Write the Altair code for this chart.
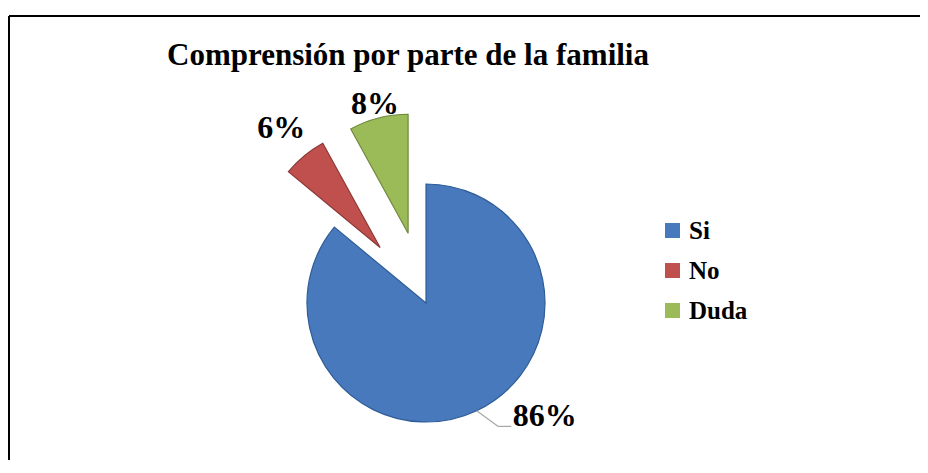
import math
import altair as alt
import pandas as pd

# ---- data ----
categories = ["Si", "No", "Duda"]
values = [86, 6, 8]
labels = ["86%", "6%", "8%"]
colors = ["#4779BC", "#C0504D", "#9BBB59"]
edge_colors = ["#2E5C96", "#8C3836", "#71893F"]
title_text = "Comprensión por parte de la familia"

W, H = 912, 452
CX, CY, R = 418, 295, 119
EXPLODE = 72
TAU = 2 * math.pi
SERIF = "Liberation Serif"

df = pd.DataFrame({"cat": categories, "val": values, "label": labels,
                   "order": list(range(len(categories)))})

base = alt.Chart(df).transform_joinaggregate(
    total="sum(val)"
).transform_window(
    cum="sum(val)", sort=[alt.SortField("order")], frame=[None, 0]
).transform_calculate(
    end="datum.cum / datum.total * 100",
    start="(datum.cum - datum.val) / datum.total * 100",
).transform_calculate(
    mid=f"(datum.start + datum.end) / 2 / 100 * {TAU}",
    e=f"datum.cat == 'Si' ? 0 : {EXPLODE}",
).transform_calculate(
    px=f"{CX} + datum.e * sin(datum.mid)",
    py=f"{CY} - datum.e * cos(datum.mid)",
)

arcs = base.mark_arc(radius=R, strokeWidth=1.2).encode(
    theta=alt.Theta("start:Q", scale=alt.Scale(domain=[0, 100], range=[0, TAU])),
    theta2="end:Q",
    x=alt.X("px:Q", scale=None, axis=None),
    y=alt.Y("py:Q", scale=None, axis=None),
    color=alt.Color(
        "cat:N",
        scale=alt.Scale(domain=categories, range=colors),
        sort=categories,
        legend=alt.Legend(
            title=None, orient="none", legendX=652, legendY=210,
            symbolType="square", symbolSize=225, symbolStrokeWidth=0,
            labelFont=SERIF, labelFontSize=25, labelFontWeight="bold",
            labelColor="black", labelOffset=4, rowPadding=14, padding=0,
            labelLimit=200,
        ),
    ),
    stroke=alt.Stroke("cat:N", scale=alt.Scale(domain=categories, range=edge_colors),
                      legend=None),
)

label_pos = base.transform_calculate(
    la="datum.cat == 'Si' ? datum.mid - 0.37 : datum.mid",
    lr=f"{R} + datum.e + (datum.cat == 'Si' ? 45 : datum.cat == 'No' ? 36 : 14)",
).transform_calculate(
    tx=f"{CX} + datum.lr * sin(datum.la)",
    ty=f"{CY} - datum.lr * cos(datum.la)",
)

texts = label_pos.mark_text(
    font=SERIF, fontSize=32, fontWeight="bold", color="black", baseline="middle"
).encode(
    x=alt.X("tx:Q", scale=None, axis=None),
    y=alt.Y("ty:Q", scale=None, axis=None),
    text="label:N",
)

leader_pts = base.transform_filter("datum.cat == 'Si'").transform_calculate(
    l1x=f"{CX} + {R} * sin(datum.mid)",
    l1y=f"{CY} - {R} * cos(datum.mid)",
    l2x=f"{CX} + 143 * sin(datum.mid - 0.09)",
    l2y=f"{CY} - 143 * cos(datum.mid - 0.09)",
).transform_calculate(l3x="datum.l2x + 13")

leader1 = leader_pts.mark_rule(color="#A6A6A6", strokeWidth=1.2).encode(
    x=alt.X("l1x:Q", scale=None, axis=None), y=alt.Y("l1y:Q", scale=None, axis=None),
    x2="l2x:Q", y2="l2y:Q",
)
leader2 = leader_pts.mark_rule(color="#A6A6A6", strokeWidth=1.2).encode(
    x=alt.X("l2x:Q", scale=None, axis=None), y=alt.Y("l2y:Q", scale=None, axis=None),
    x2="l3x:Q",
)

title = alt.Chart(pd.DataFrame({"t": [title_text]})).mark_text(
    font=SERIF, fontSize=31, fontWeight="bold", color="black", baseline="alphabetic"
).encode(text="t:N", x=alt.value(400), y=alt.value(57))

frame_df = pd.DataFrame({"a": [0]})
border_left = alt.Chart(frame_df).mark_rule(color="black", strokeWidth=2).encode(
    x=alt.value(1), y=alt.value(8), y2=alt.value(H))
border_top = alt.Chart(frame_df).mark_rule(color="black", strokeWidth=2).encode(
    x=alt.value(1), x2=alt.value(W), y=alt.value(8))

chart = alt.layer(
    border_left, border_top, title, arcs, leader1, leader2, texts
).resolve_scale(theta="shared").properties(
    width=W, height=H, autosize=alt.AutoSizeParams(type="none"), padding=0,
    background="white",
).configure_view(stroke=None)

chart.save("out.html", embed_options={"renderer": "svg", "actions": False})
